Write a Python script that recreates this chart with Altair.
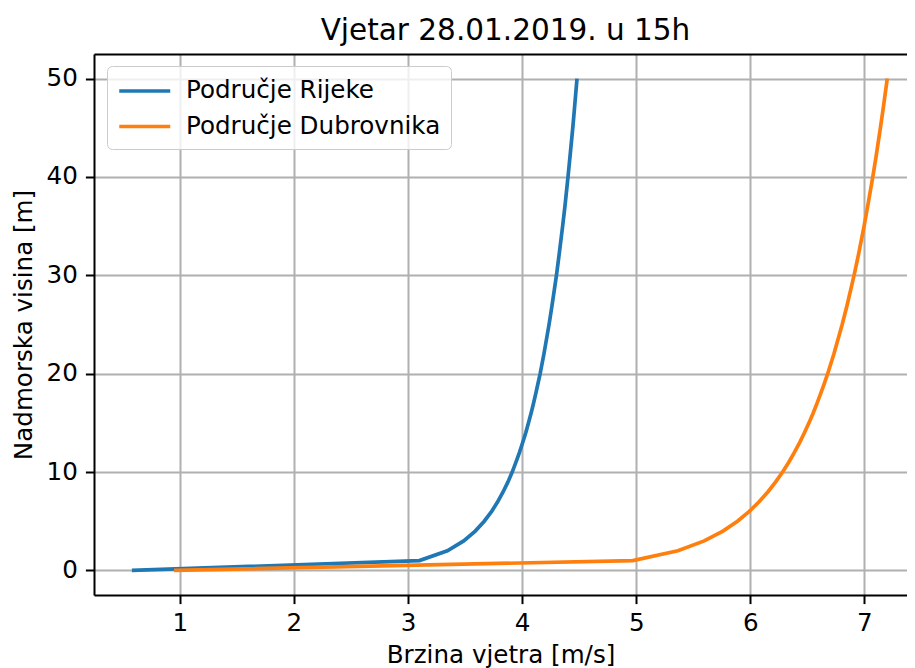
import altair as alt
import pandas as pd

# ---- data ----
heights = [0, 1, 2, 3, 4, 5, 6, 7, 8, 9, 10, 11, 12, 13, 14, 15, 16, 17, 18, 19, 20,
           22, 25, 27, 30, 32, 35, 37, 40, 42, 45, 47, 50]
rijeka_speed = [0.58, 3.10, 3.345, 3.488, 3.589, 3.668, 3.733, 3.787, 3.834, 3.876,
                3.913, 3.946, 3.977, 4.005, 4.032, 4.056, 4.079, 4.100, 4.120, 4.139,
                4.158, 4.191, 4.236, 4.263, 4.301, 4.323, 4.355, 4.375, 4.402, 4.419,
                4.444, 4.459, 4.481]
dubrovnik_speed = [0.95, 4.97, 5.365, 5.596, 5.760, 5.887, 5.991, 6.079, 6.155, 6.222,
                   6.283, 6.337, 6.386, 6.432, 6.474, 6.514, 6.551, 6.585, 6.617, 6.648,
                   6.678, 6.732, 6.805, 6.849, 6.909, 6.946, 6.997, 7.028, 7.073, 7.101,
                   7.140, 7.165, 7.200]
series_names = ["Područje Rijeke", "Područje Dubrovnika"]
series_colors = ["#1f77b4", "#ff7f0e"]
x_ticks = [1, 2, 3, 4, 5, 6, 7]
y_ticks = [0, 10, 20, 30, 40, 50]

rows = []
for name, speeds in zip(series_names, [rijeka_speed, dubrovnik_speed]):
    for h, v in zip(heights, speeds):
        rows.append({"serija": name, "v": v, "h": h})
df = pd.DataFrame(rows)

FONT = "DejaVu Sans"
FS = 24.6

x_scale = alt.Scale(domain=[0.248, 7.373], nice=False, zero=False)
y_scale = alt.Scale(domain=[-2.5, 52.5], nice=False, zero=False)

x_axis = alt.Axis(values=x_ticks, format="d", grid=True, gridColor="#b0b0b0", gridWidth=2,
                  domainColor="black", domainWidth=2, tickColor="black", tickWidth=2,
                  tickSize=8.6, labelPadding=8, labelFont=FONT, labelFontSize=FS,
                  labelColor="black", title="Brzina vjetra [m/s]", titleFont=FONT,
                  titleFontSize=FS, titleFontWeight="normal", titleColor="black",
                  titlePadding=8)
y_axis = alt.Axis(values=y_ticks, format="d", grid=True, gridColor="#b0b0b0", gridWidth=2,
                  domainColor="black", domainWidth=2, tickColor="black", tickWidth=2,
                  tickSize=8.6, labelPadding=8, labelFont=FONT, labelFontSize=FS,
                  labelColor="black", title="Nadmorska visina [m]", titleFont=FONT,
                  titleFontSize=FS, titleFontWeight="normal", titleColor="black",
                  titlePadding=10)

lines = alt.Chart(df).mark_line(strokeWidth=3.7, clip=True).encode(
    x=alt.X("v:Q", scale=x_scale, axis=x_axis),
    y=alt.Y("h:Q", scale=y_scale, axis=y_axis),
    color=alt.Color("serija:N",
                    scale=alt.Scale(domain=series_names, range=series_colors),
                    sort=series_names,
                    legend=alt.Legend(orient="none", legendX=13, legendY=12, title=None,
                                      symbolType="M-1,0H3", symbolSize=650,
                                      symbolStrokeWidth=3.7, labelFont=FONT,
                                      labelFontSize=FS, labelColor="black",
                                      labelLimit=500, labelOffset=39, rowPadding=8.5,
                                      padding=10, fillColor="rgba(255,255,255,0.8)",
                                      strokeColor="#cccccc", cornerRadius=5)),
    order="h:Q",
)

top_spine = alt.Chart(df).mark_point(opacity=0).encode(
    x=alt.X("v:Q", scale=x_scale,
            axis=alt.Axis(orient="top", labels=False, ticks=False, grid=False,
                          domainColor="black", domainWidth=2, title=None)),
    y=alt.Y("h:Q", scale=y_scale, axis=y_axis),
)

chart = alt.layer(lines, top_spine).resolve_axis(x="independent").properties(
    width=813,
    height=541,
    autosize=alt.AutoSizeParams(type="none"),
    padding={"left": 86, "top": 46, "right": 0, "bottom": 73},
    title=alt.TitleParams("Vjetar 28.01.2019. u 15h", font=FONT, fontSize=29.5,
                          fontWeight="normal", color="black", anchor="middle",
                          baseline="alphabetic", offset=12, dy=27, dx=5),
).configure_view(stroke=None).configure(background="white")

chart.save("out.html", embed_options={"renderer": "svg", "actions": False})
